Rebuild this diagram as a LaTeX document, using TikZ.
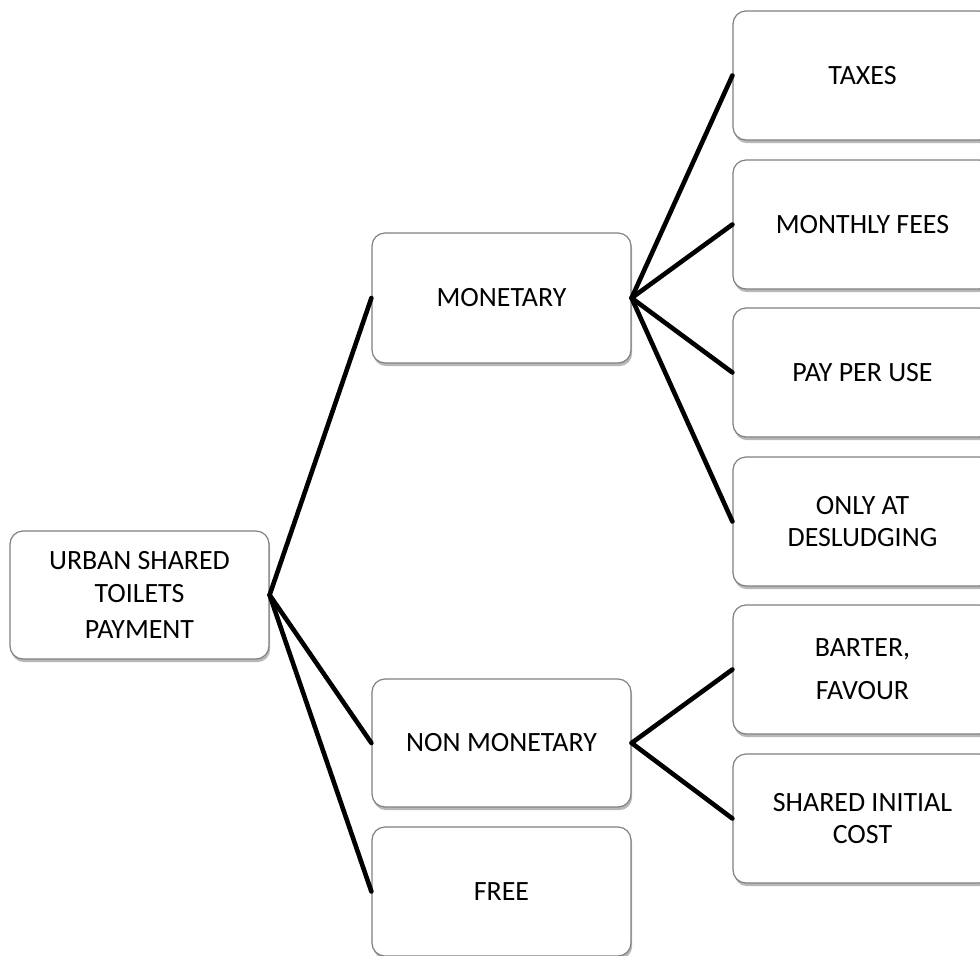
\documentclass[tikz,border=0pt]{standalone}
\usepackage{fontspec}
\setmainfont{Carlito}
\usetikzlibrary{shadows}
\tikzset{
  box/.style={draw=black!50, line width=0.6bp, rounded corners=6.5bp, fill=white,
    minimum width=129.5bp, minimum height=64.5bp, inner sep=0pt, align=center,
    font=\fontsize{14}{16.5}\selectfont,
    drop shadow={shadow xshift=0.6bp, shadow yshift=-1.6bp, opacity=0.28, fill=black}},
  link/.style={line width=2.3bp, black, line cap=round, line join=round}
}
\begin{document}
\begin{tikzpicture}[x=0.5bp, y=-0.5bp]
\useasboundingbox (0,0) rectangle (980,956);
\clip (0,0) rectangle (980,956);
\fill[white] (0,0) rectangle (980,956);
\node[box, minimum height=64bp] (root) at (139.5,595) {URBAN SHARED\\TOILETS\\[2bp]PAYMENT};
\node[box, minimum height=65bp] (mon) at (501.5,298) {MONETARY};
\node[box, minimum height=64bp] (non) at (501.5,743) {NON MONETARY};
\node[box] (free) at (501.5,891.5) {FREE};
\node[box] (taxes) at (862.5,75.5) {TAXES};
\node[box] (monthly) at (862.5,224.5) {MONTHLY FEES};
\node[box] (pay) at (862.5,372.5) {PAY PER USE};
\node[box] (only) at (862.5,521.5) {ONLY AT\\DESLUDGING};
\node[box] (barter) at (862.5,669.5) {BARTER,\\[5bp]FAVOUR};
\node[box] (shared) at (862.5,818.5) {SHARED INITIAL\\COST};
\foreach \t in {mon,non,free} \draw[link] (root.east) -- (\t.west);
\foreach \t in {taxes,monthly,pay,only} \draw[link] (mon.east) -- (\t.west);
\foreach \t in {barter,shared} \draw[link] (non.east) -- (\t.west);
\end{tikzpicture}
\end{document}
